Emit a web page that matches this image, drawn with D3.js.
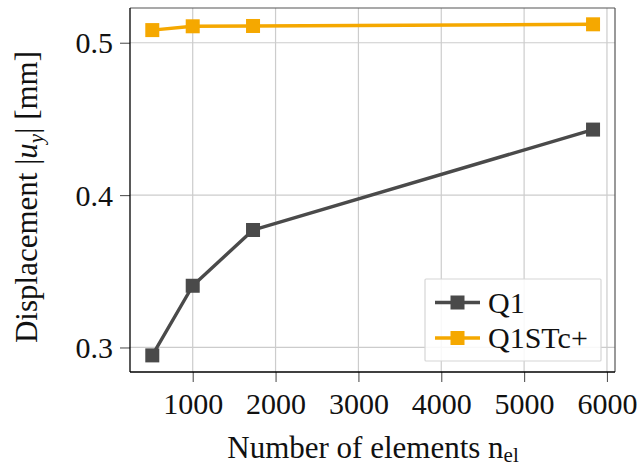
<!DOCTYPE html>
<html>
<head>
<meta charset="utf-8">
<script src="https://cdn.jsdelivr.net/npm/d3@7"></script>
<style>
  html, body { margin: 0; padding: 0; background: #fff; }
  svg { display: block; }
  svg text { font-family: "Liberation Serif", "Times New Roman", serif !important; fill: #111; }
</style>
</head>
<body>
<svg id="chart" width="638" height="468"></svg>
<script>
// Mesh sizes (number of elements) and vertical displacement results
const elements = [512, 1000, 1728, 5832];
const q1Values = [0.2948, 0.3405, 0.3771, 0.4430];
const q1stcValues = [0.5083, 0.5108, 0.5110, 0.5121];
const seriesNames = ["Q1", "Q1STc+"];
const seriesColors = ["#4a4a4a", "#f5a800"];
const xTicks = [1000, 2000, 3000, 4000, 5000, 6000];
const yTicks = [0.3, 0.4, 0.5];

const series = [
  { name: seriesNames[0], color: seriesColors[0], values: q1Values },
  { name: seriesNames[1], color: seriesColors[1], values: q1stcValues }
];

const svg = d3.select("#chart");
const m = { left: 130, top: 8, right: 615, bottom: 372 };

const x = d3.scaleLinear().domain([243, 6097]).range([m.left, m.right]);
const y = d3.scaleLinear().domain([0.2839, 0.5228]).range([m.bottom, m.top]);

// grid
const grid = svg.append("g");
grid.selectAll("line.gx").data(xTicks).join("line")
  .attr("x1", d => x(d)).attr("x2", d => x(d))
  .attr("y1", m.top).attr("y2", m.bottom)
  .attr("stroke", "#cccccc").attr("stroke-width", 1.2);
grid.selectAll("line.gy").data(yTicks).join("line")
  .attr("y1", d => y(d)).attr("y2", d => y(d))
  .attr("x1", m.left).attr("x2", m.right)
  .attr("stroke", "#cccccc").attr("stroke-width", 1.2);

// axes
const xAxis = d3.axisBottom(x).tickValues(xTicks).tickFormat(d3.format("d"))
  .tickSizeInner(10).tickSizeOuter(0).tickPadding(6);
const yAxis = d3.axisLeft(y).tickValues(yTicks).tickFormat(d3.format(".1f"))
  .tickSizeInner(10).tickSizeOuter(0).tickPadding(7);

const gx = svg.append("g").attr("transform", `translate(0,${m.bottom})`).call(xAxis);
const gy = svg.append("g").attr("transform", `translate(${m.left},0)`).call(yAxis);
[gx, gy].forEach(g => {
  g.attr("font-family", null).attr("font-size", null);
  g.select(".domain").remove();
  g.selectAll(".tick line").attr("stroke", "#555").attr("stroke-width", 1.1);
  g.selectAll(".tick text").style("font-size", "30px").attr("fill", "#111");
});
gy.selectAll(".tick text").attr("dy", "0.34em");
gx.selectAll(".tick text").attr("dy", "0.85em");

// frame
svg.append("line").attr("x1", m.left).attr("x2", m.right).attr("y1", m.top).attr("y2", m.top)
  .attr("stroke", "#555").attr("stroke-width", 1.2);
svg.append("line").attr("x1", m.right).attr("x2", m.right).attr("y1", m.top).attr("y2", m.bottom)
  .attr("stroke", "#555").attr("stroke-width", 1.2);
svg.append("line").attr("x1", m.left).attr("x2", m.right).attr("y1", m.bottom).attr("y2", m.bottom)
  .attr("stroke", "#000").attr("stroke-width", 1.3);
svg.append("line").attr("x1", m.left).attr("x2", m.left).attr("y1", m.top).attr("y2", m.bottom)
  .attr("stroke", "#000").attr("stroke-width", 1.3);

// series lines and square markers
const line = d3.line().x((d, i) => x(elements[i])).y(d => y(d));
const ms = 14;
series.forEach(s => {
  const g = svg.append("g");
  g.append("path").datum(s.values)
    .attr("d", line).attr("fill", "none")
    .attr("stroke", s.color).attr("stroke-width", 3.4)
    .attr("stroke-linejoin", "round");
  g.selectAll("rect").data(s.values).join("rect")
    .attr("x", (d, i) => x(elements[i]) - ms / 2)
    .attr("y", d => y(d) - ms / 2)
    .attr("width", ms).attr("height", ms)
    .attr("fill", s.color);
});

// legend
const leg = svg.append("g");
leg.append("rect").attr("x", 425).attr("y", 279).attr("width", 176).attr("height", 82)
  .attr("fill", "#fff").attr("fill-opacity", 0.85)
  .attr("stroke", "#d6d6d6").attr("stroke-width", 1.2).attr("rx", 1);
series.forEach((s, i) => {
  const cy = 302.5 + i * 35.5;
  leg.append("line").attr("x1", 435).attr("x2", 480).attr("y1", cy).attr("y2", cy)
    .attr("stroke", s.color).attr("stroke-width", 3.4);
  leg.append("rect").attr("x", 457.5 - ms / 2).attr("y", cy - ms / 2)
    .attr("width", ms).attr("height", ms).attr("fill", s.color);
  leg.append("text").attr("x", 488).attr("y", cy).attr("dy", "0.34em")
    .style("font-size", "30px").text(s.name);
});

// axis titles
const xl = svg.append("text").attr("x", 373).attr("y", 458)
  .attr("text-anchor", "middle").style("font-size", "31px");
xl.append("tspan").text("Number of elements n");
xl.append("tspan").attr("dy", 4).style("font-size", "21px").text("el");

const yl = svg.append("text")
  .attr("transform", `translate(37,197) rotate(-90)`)
  .attr("text-anchor", "middle").style("font-size", "31px");
yl.append("tspan").text("Displacement |");
yl.append("tspan").style("font-style", "italic").text("u");
yl.append("tspan").attr("dy", 6).style("font-style", "italic").style("font-size", "21px").text("y");
yl.append("tspan").attr("dy", -6).text("| [mm]");
</script>
</body>
</html>
